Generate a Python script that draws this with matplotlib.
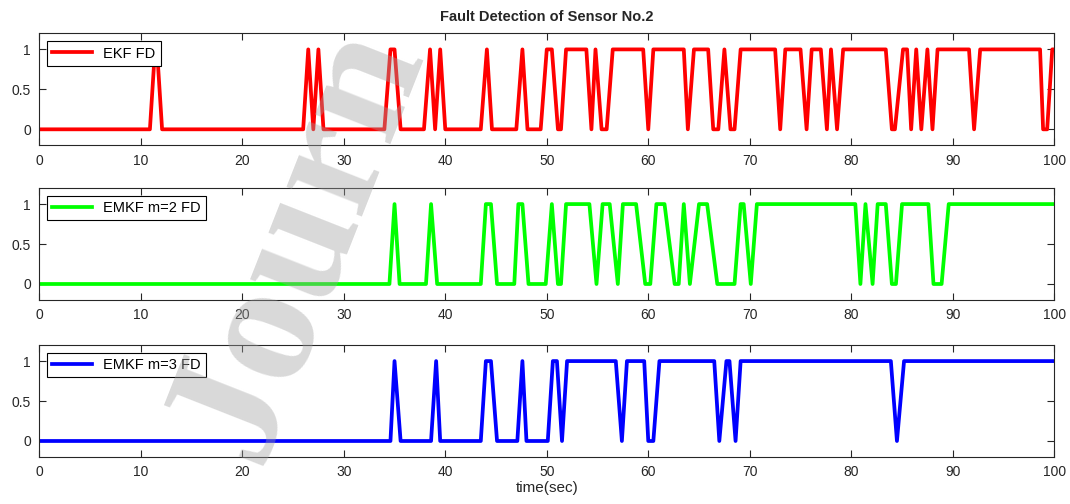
import matplotlib
matplotlib.use("Agg")
from matplotlib import pyplot as plt

# breakpoints (time in sec, detection flag 0/1)
ekf_t = [0, 10.9, 11.4, 11.6, 12.1,
         26.0, 26.5, 27.0, 27.5, 28.0,
         34.0, 34.6, 35.0, 35.6,
         37.9, 38.5, 39.0, 39.5, 40.0,
         43.5, 44.1, 44.6,
         47.0, 47.6, 48.1,
         49.4, 50.0, 50.5, 51.1, 51.4, 51.9, 53.9, 54.4, 54.8, 55.4, 55.9, 56.5,
         59.5, 60.0, 60.5, 63.5, 63.9, 64.5, 65.9, 66.4, 66.9, 67.5, 68.1, 68.5,
         69.1, 72.5, 73.0, 73.5, 75.0, 75.6, 76.1, 77.0, 77.6, 78.0, 78.6, 79.2,
         83.4, 84.0, 84.3, 85.1, 85.5, 85.9, 86.4, 86.9, 87.5, 88.0, 88.5,
         91.6, 92.1, 92.7, 98.6, 98.9, 99.3, 99.8, 100]
ekf_y = [0, 0, 1, 1, 0,
         0, 1, 0, 1, 0,
         0, 1, 1, 0,
         0, 1, 0, 1, 0,
         0, 1, 0,
         0, 1, 0,
         0, 1, 1, 0, 0, 1, 1, 0, 1, 0, 0, 1,
         1, 0, 1, 1, 0, 1, 1, 0, 0, 1, 0, 0,
         1, 1, 0, 1, 1, 0, 1, 1, 0, 1, 0, 1,
         1, 0, 0, 1, 1, 0, 1, 0, 1, 0, 1,
         1, 0, 1, 1, 0, 0, 1, 1]

emkf2_t = [0, 34.5, 35.0, 35.5,
           38.1, 38.6, 39.2,
           43.5, 44.0, 44.5, 45.1,
           46.8, 47.2, 47.6, 48.2,
           49.9, 50.5, 51.1, 51.4, 51.9, 54.2, 54.9, 55.5, 56.2, 57.0, 57.5,
           58.8, 59.7, 60.2, 60.8, 61.6, 62.6, 63.0, 63.5, 64.1, 65.0, 65.8,
           66.8, 68.5, 69.1, 69.4, 70.1, 70.7,
           80.4, 80.9, 81.4, 82.1, 82.6, 83.4, 84.0, 84.4, 85.0,
           87.6, 88.1, 88.9, 89.6, 100]
emkf2_y = [0, 0, 1, 0,
           0, 1, 0,
           0, 1, 1, 0,
           0, 1, 1, 0,
           0, 1, 0, 0, 1, 1, 0, 1, 1, 0, 1,
           1, 0, 0, 1, 1, 0, 0, 1, 0, 1, 1,
           0, 0, 1, 1, 0, 1,
           1, 0, 1, 0, 1, 1, 0, 0, 1,
           1, 0, 0, 1, 1]

emkf3_t = [0, 34.6, 35.0, 35.6,
           38.6, 39.1, 39.5,
           43.5, 44.0, 44.5, 45.1,
           47.1, 47.6, 48.0,
           50.1, 50.6, 51.0, 51.5, 52.0, 56.8, 57.4, 57.9, 59.6, 60.0, 60.5,
           61.1, 66.5, 67.0, 67.7, 68.0, 68.6, 69.1,
           83.9, 84.5, 85.2, 100]
emkf3_y = [0, 0, 1, 0,
           0, 1, 0,
           0, 1, 1, 0,
           0, 1, 0,
           0, 1, 1, 0, 1, 1, 0, 1, 1, 0, 0,
           1, 1, 0, 1, 1, 0, 1,
           1, 0, 1, 1]

labels = ["EKF FD", "EMKF m=2 FD", "EMKF m=3 FD"]
colors = ["#ff0000", "#00ff00", "#0000ff"]
xticks = [0, 10, 20, 30, 40, 50, 60, 70, 80, 90, 100]
yticks = [0, 0.5, 1]
ytick_labels = ["0", "0.5", "1"]

plt.rcParams['font.family'] = ['Liberation Sans', 'DejaVu Sans']
fig = plt.figure(figsize=(10.7, 5.04), dpi=100)

series = [(ekf_t, ekf_y), (emkf2_t, emkf2_y), (emkf3_t, emkf3_y)]
bottoms = [0.7117, 0.4048, 0.0933]
axes = []
for i, (t, y) in enumerate(series):
    ax = fig.add_axes([0.0367, bottoms[i], 0.9486, 0.222])
    ax.plot(t, y, color=colors[i], lw=2.7, label=labels[i])
    ax.set_xlim(0, 100)
    ax.set_ylim(-0.2, 1.2)
    ax.set_xticks(xticks)
    ax.set_yticks(yticks)
    ax.set_yticklabels(ytick_labels)
    ax.tick_params(direction='in', top=True, right=True, length=5,
                   width=0.8, labelsize=10, colors='#262626', pad=6)
    for sp in ax.spines.values():
        sp.set_color('#262626')
        sp.set_linewidth(0.8)
    leg = ax.legend(loc='upper left', fontsize=10.5, handlelength=2.7,
                    fancybox=False, framealpha=1, borderaxespad=0.55,
                    borderpad=0.35)
    leg.get_frame().set_edgecolor('black')
    leg.get_frame().set_linewidth(0.8)
    axes.append(ax)

axes[0].set_title("Fault Detection of Sensor No.2", fontsize=10.5,
                  fontweight='bold', color='#262626', pad=9)
axes[2].set_xlabel("time(sec)", fontsize=11, color='#262626', labelpad=1)

# journal watermark (only the part that shows inside the picture)
fig.text(0.24, 0.075, "Journ", fontsize=126, fontweight='bold',
         family='Liberation Serif', color='#a0a0a0', alpha=0.4,
         rotation=68.5, rotation_mode='anchor', ha='left', va='baseline',
         zorder=10)

plt.savefig("out.png", dpi=100)
